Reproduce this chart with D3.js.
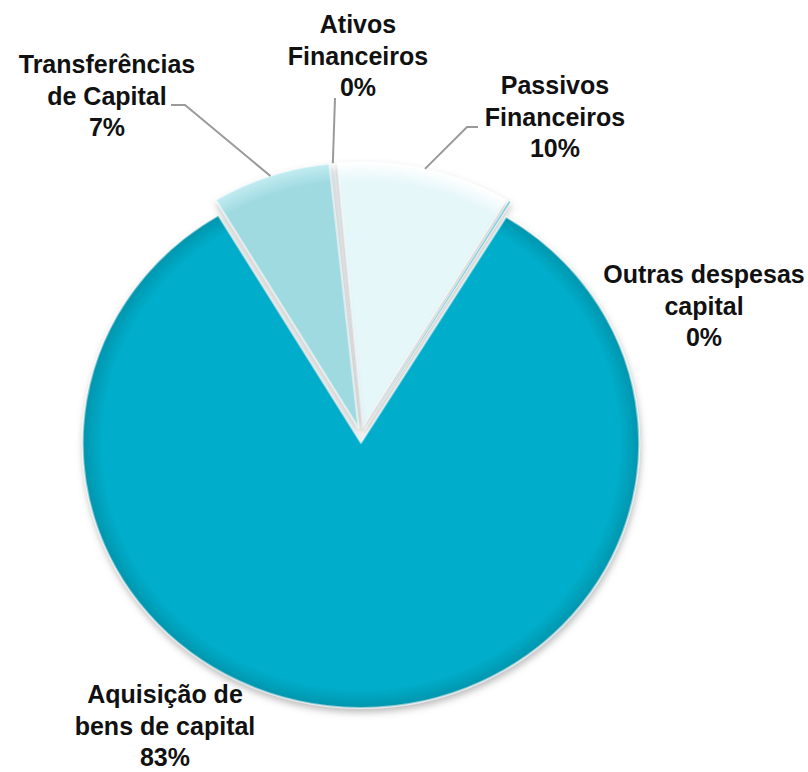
<!DOCTYPE html>
<html>
<head>
<meta charset="utf-8">
<script src="https://cdn.jsdelivr.net/npm/d3@7"></script>
<style>
  body { margin: 0; background: #fff; }
  svg { display: block; }
</style>
</head>
<body>
<script>
// data, clockwise from the top
const names = ["Ativos Financeiros", "Passivos Financeiros", "Outras despesas capital", "Aquisição de bens de capital", "Transferências de Capital"];
const nameLines = [["Ativos", "Financeiros"], ["Passivos", "Financeiros"], ["Outras despesas", "capital"], ["Aquisição de", "bens de capital"], ["Transferências", "de Capital"]];
const values = [0.2, 10.1, 0.1, 82.7, 6.9];
const colors = ["#e6f7fa", "#e6f7fa", "#00adca", "#00adca", "#9fdae1"];
const rims = ["#ffffff", "#ffffff", "#0795ad", "#0795ad", "#c2ecf1"];

const w = 808, h = 772;
const cx = 361, cy = 435, radius = 265, sx = 1.05, explode = 8;
const startDeg = -6;

// label placement: centre x, first baseline, leader line start
const labelPos = {
  "Ativos Financeiros":           {x: 358, y: 33,  lead: [[335, 98]]},
  "Passivos Financeiros":         {x: 555, y: 94,  lead: [[478, 127], [467, 127]]},
  "Outras despesas capital":      {x: 704, y: 283, lead: null},
  "Aquisição de bens de capital": {x: 165, y: 703, lead: null},
  "Transferências de Capital":    {x: 107, y: 73,  lead: [[171, 105], [185, 105]]}
};
const lineH = 31.5;

const svg = d3.select("body").append("svg")
  .attr("width", w)
  .attr("height", h);

const defs = svg.append("defs");
const shadow = defs.append("filter").attr("id", "shadow")
  .attr("x", "-20%").attr("y", "-20%").attr("width", "140%").attr("height", "140%");
shadow.append("feGaussianBlur").attr("in", "SourceAlpha").attr("stdDeviation", 3.5).attr("result", "blur");
shadow.append("feOffset").attr("in", "blur").attr("dx", 1).attr("dy", 4).attr("result", "off");
shadow.append("feFlood").attr("flood-color", "#777").attr("flood-opacity", 0.5);
shadow.append("feComposite").attr("in2", "off").attr("operator", "in").attr("result", "sh");
const merge = shadow.append("feMerge");
merge.append("feMergeNode").attr("in", "sh");
merge.append("feMergeNode").attr("in", "SourceGraphic");

const pie = d3.pie().sort(null).value(d => d)
  .startAngle(startDeg * Math.PI / 180)
  .endAngle(startDeg * Math.PI / 180 + 2 * Math.PI);
const arcs = pie(values);

const arc = d3.arc().innerRadius(0).outerRadius(radius);

arcs.forEach((d, i) => {
  const g = defs.append("radialGradient").attr("id", "grad" + i)
    .attr("gradientUnits", "userSpaceOnUse")
    .attr("cx", 0).attr("cy", 0).attr("r", radius);
  g.append("stop").attr("offset", 0).attr("stop-color", colors[i]);
  g.append("stop").attr("offset", 0.93).attr("stop-color", colors[i]);
  g.append("stop").attr("offset", 1).attr("stop-color", rims[i]);
});

const pieG = svg.append("g")
  .attr("transform", `translate(${cx},${cy}) scale(${sx},1)`);

function offset(d) {
  const mid = (d.startAngle + d.endAngle) / 2;
  return [explode * Math.sin(mid), -explode * Math.cos(mid)];
}

const slices = pieG.selectAll("g.slice")
  .data(arcs)
  .join("g")
  .attr("class", "slice")
  .attr("transform", d => `translate(${offset(d)})`)
  .attr("filter", "url(#shadow)");

slices.append("path")
  .attr("d", arc)
  .attr("fill", (d, i) => `url(#grad${i})`)
  .attr("stroke", "#ffffff")
  .attr("stroke-opacity", 0.5)
  .attr("stroke-width", 2)
  .attr("stroke-linejoin", "round");

// point on a slice's arc, in page coordinates
function arcPoint(d) {
  const mid = (d.startAngle + d.endAngle) / 2;
  const o = offset(d);
  return [cx + sx * (o[0] + radius * Math.sin(mid)), cy + o[1] - radius * Math.cos(mid)];
}

const fmt = v => Math.round(v) + "%";

arcs.forEach((d, i) => {
  const p = labelPos[names[i]];
  if (p.lead) {
    const pts = p.lead.concat([arcPoint(d)]);
    svg.append("path")
      .attr("d", d3.line()(pts))
      .attr("fill", "none")
      .attr("stroke", "#9a9a9a")
      .attr("stroke-width", 2);
  }
  const t = svg.append("text")
    .attr("text-anchor", "middle")
    .style("font-family", "'Liberation Sans', Arial, sans-serif")
    .style("font-weight", "bold")
    .style("font-size", "25px")
    .style("fill", "#111");
  nameLines[i].concat([fmt(d.value)]).forEach((s, k) => {
    t.append("tspan").attr("x", p.x).attr("y", p.y + k * lineH).text(s);
  });
});
</script>
</body>
</html>
